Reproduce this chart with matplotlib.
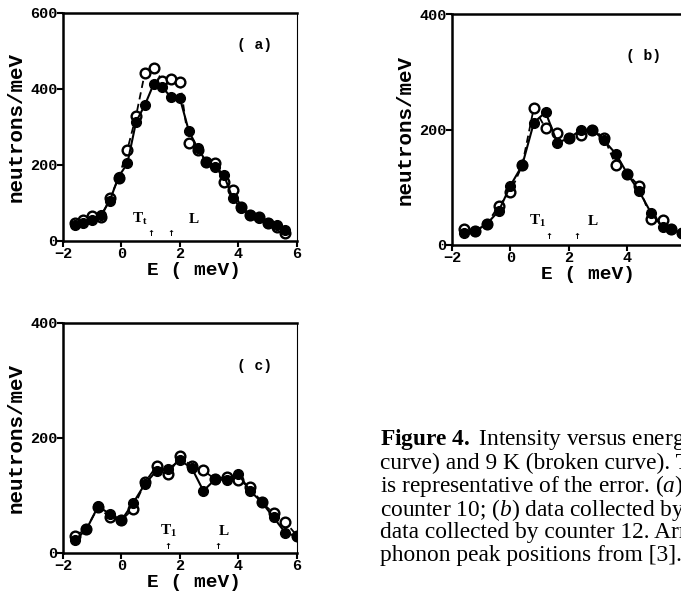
import numpy as np
import matplotlib
matplotlib.use('Agg')
import matplotlib.pyplot as plt

plt.rcParams['mathtext.fontset'] = 'custom'
plt.rcParams['mathtext.rm'] = 'Liberation Serif'
plt.rcParams['mathtext.it'] = 'Liberation Serif:italic'
plt.rcParams['mathtext.bf'] = 'Liberation Serif:bold'

## dados (E em meV, neutrons/meV) ##
# painel (a)
e_a = [-1.6, -1.3, -1.0, -0.7, -0.4, -0.1, 0.2, 0.5, 0.8, 1.1, 1.4, 1.7, 2.0,
       2.3, 2.6, 2.9, 3.2, 3.5, 3.8, 4.1, 4.4, 4.7, 5.0, 5.3, 5.6]
cheio_a = [42, 46, 54, 68, 106, 169, 204, 314, 358, 413, 404, 378, 375,
           290, 244, 209, 196, 174, 112, 86, 68, 60, 46, 42, 29]
aberto_a = [48, 55, 67, 62, 112, 165, 240, 330, 443, 456, 422, 426, 419,
            257, 240, 209, 204, 156, 134, 90, 68, 64, 46, 38, 20]

# painel (b)
e_b = [-1.6, -1.2, -0.8, -0.4, 0.0, 0.4, 0.8, 1.2, 1.6, 2.0, 2.4, 2.8, 3.2,
       3.6, 4.0, 4.4, 4.8, 5.2, 5.5, 5.85]
cheio_b = [21, 24, 37, 59, 103, 138, 212, 230, 177, 185, 199, 200, 181,
           158, 123, 93, 56, 31, 27, 21]
aberto_b = [28, 24, 37, 68, 92, 138, 238, 202, 194, 185, 190, 200, 186,
            138, 123, 102, 45, 43, 27, 20]

# painel (c)
e_c = [-1.6, -1.2, -0.8, -0.4, 0.0, 0.4, 0.8, 1.2, 1.6, 2.0, 2.4, 2.8, 3.2,
       3.6, 4.0, 4.4, 4.8, 5.2, 5.6, 6.0]
cheio_c = [22, 41, 81, 68, 57, 87, 120, 143, 146, 161, 148, 108, 128,
           127, 137, 108, 88, 62, 35, 29]
aberto_c = [30, 42, 80, 62, 57, 77, 123, 151, 137, 168, 151, 144, 128,
            133, 127, 114, 88, 69, 54, 30]

# posições dos fônons (setas)
setas_a = [1.0, 1.69]
setas_b = [1.30, 2.27]
setas_c = [1.59, 3.30]

legenda_fig = [
    r"$\mathbf{Figure\ 4.}$ Intensity versus energy",
    "curve) and 9 K (broken curve). The",
    "is representative of the error. ($a$) data",
    "counter 10; ($b$) data collected by",
    "data collected by counter 12. Arrows",
    "phonon peak positions from [3].",
]

fig = plt.figure(figsize=(6.81, 5.99), dpi=100, facecolor='white')

mono = 'Liberation Mono'
serif = 'Liberation Serif'


def painel(pos, e, cheio, aberto, ymax, letra, setas, sub, t_x, l_x, lab_y, seta_y, par_y, xl):
    ax = fig.add_axes(pos)
    ax.plot(e, aberto, linestyle=(0, (4, 2.5)), color='black', linewidth=1.3,
            marker='o', markersize=7, markerfacecolor='white',
            markeredgecolor='black', markeredgewidth=1.7, zorder=3)
    ax.plot(e, cheio, linestyle='-', color='black', linewidth=1.5,
            marker='o', markersize=7, markerfacecolor='black',
            markeredgecolor='black', zorder=4)
    ax.set_xlim(-2, 6)
    ax.set_ylim(0, ymax)
    ax.set_xticks([-2, 0, 2, 4, 6])
    ax.set_xticklabels(['\u22122', '0', '2', '4', '6'])
    ax.set_yticks(np.arange(0, ymax + 1, 200))
    for lab in ax.get_xticklabels() + ax.get_yticklabels():
        lab.set_fontfamily(mono)
        lab.set_fontweight('bold')
        lab.set_fontsize(11)
    ax.tick_params(direction='out', length=4, width=1.5, pad=0)
    for s in ['left', 'bottom', 'top']:
        ax.spines[s].set_linewidth(1.8)
    ax.spines['right'].set_linewidth(0.8)
    ax.set_ylabel('neutrons/meV', fontfamily=mono, fontweight='bold',
                  fontsize=15, labelpad=3)
    ax.set_xlabel('E ( meV)', fontfamily=mono, fontweight='bold', fontsize=14)
    ax.xaxis.set_label_coords(xl, -0.128, transform=ax.transAxes)
    ax.xaxis.label.set_va('center')
    ax.text(4.55, par_y, letra, fontfamily=mono, fontweight='bold',
            fontsize=10.5, ha='center', va='center')
    ax.text(t_x, lab_y, 'T$_{\\mathbf{' + sub + '}}$', fontfamily=serif,
            fontweight='bold', fontsize=11, ha='center', va='center')
    ax.text(l_x, lab_y, 'L', fontfamily=serif, fontweight='bold',
            fontsize=11, ha='center', va='center')
    for sx in setas:
        ax.text(sx, seta_y, '\u2191', fontfamily='DejaVu Sans', fontsize=6,
                fontweight='bold', ha='center', va='center')
    return ax


painel([0.0925, 0.5977, 0.3436, 0.3806], e_a, cheio_a, aberto_a, 600, '( a)',
       setas_a, 't', 0.63, 2.46, 57, 20, 516, 0.56)
painel([0.6637, 0.5910, 0.3436, 0.3856], e_b, cheio_b, aberto_b, 400, '( b)',
       setas_b, '1', 0.93, 2.82, 41, 14, 328, 0.58)
painel([0.0925, 0.0768, 0.3436, 0.3840], e_c, cheio_c, aberto_c, 400, '( c)',
       setas_c, '1', 1.60, 3.49, 38, 11, 326, 0.56)

## legenda da figura ##
for i, linha in enumerate(legenda_fig):
    fig.text(380 / 681, 1 - (440 + 23.2 * i) / 599, linha, fontfamily=serif,
             fontsize=16.8, ha='left', va='center')

fig.savefig('out.png', dpi=100, facecolor='white')
